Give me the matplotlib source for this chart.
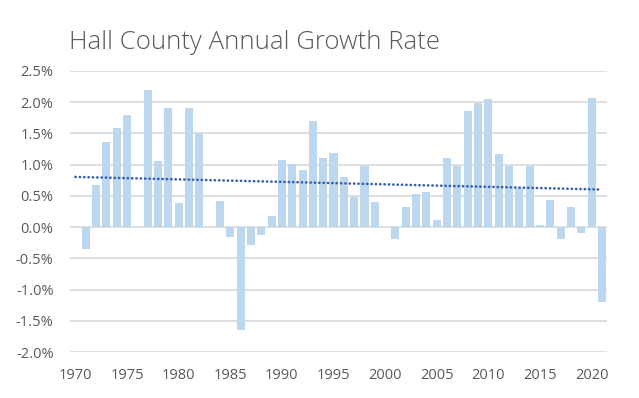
import numpy as np
import matplotlib.pyplot as plt

plt.rcParams['font.family'] = ['Open Sans', 'DejaVu Sans']

years = list(range(1970, 2022))
# annual growth rate, percent (1970 has no value)
growth = [0.0,
          -0.35, 0.68, 1.37, 1.59, 1.79, 0.0, 2.19, 1.065, 1.91, 0.38,
          1.90, 1.50, 0.0, 0.415, -0.15, -1.65, -0.28, -0.12, 0.18, 1.08,
          1.01, 0.91, 1.69, 1.10, 1.18, 0.81, 0.49, 0.985, 0.40, 0.0,
          -0.19, 0.33, 0.53, 0.56, 0.12, 1.10, 0.985, 1.85, 1.99, 2.045,
          1.17, 0.985, 0.63, 0.985, 0.03, 0.44, -0.19, 0.33, -0.10, 2.06,
          -1.20]
yticks = [-2.0, -1.5, -1.0, -0.5, 0.0, 0.5, 1.0, 1.5, 2.0, 2.5]

text_color = '#595959'
x = np.arange(len(years))

fig = plt.figure(figsize=(6.39, 3.98), dpi=100)
ax = fig.add_axes([0.110, 0.115, 0.840, 0.707])

ax.bar(x, growth, width=0.78, color='#bdd7ee', zorder=2)

# linear trendline
k, b = np.polyfit(x, growth, 1)
ax.plot(x, k * x + b, color='#3860ad', lw=1.9,
        linestyle=(0, (0.1, 1.55)), dash_capstyle='round', zorder=3)

ax.set_xlim(-0.5, len(years) - 0.5)
ax.set_ylim(-2.0, 2.5)
ax.set_yticks(yticks)
ax.set_yticklabels([f'{v:.1f}%' for v in yticks])
lab_idx = [i for i, yr in enumerate(years) if yr % 5 == 0]
ax.set_xticks(lab_idx)
ax.set_xticklabels([str(years[i]) for i in lab_idx])

ax.grid(axis='y', color='#d9d9d9', lw=1.2, zorder=0)
for s in ax.spines.values():
    s.set_visible(False)
ax.tick_params(axis='both', length=0, labelsize=10.5, colors=text_color)
ax.tick_params(axis='y', pad=12)
ax.tick_params(axis='x', pad=11)

fig.text(0.108, 0.892, 'Hall County Annual Growth Rate', fontsize=18.5,
         color=text_color, va='center', ha='left', fontweight='light')

fig.savefig('out.png', dpi=100, facecolor='white')
